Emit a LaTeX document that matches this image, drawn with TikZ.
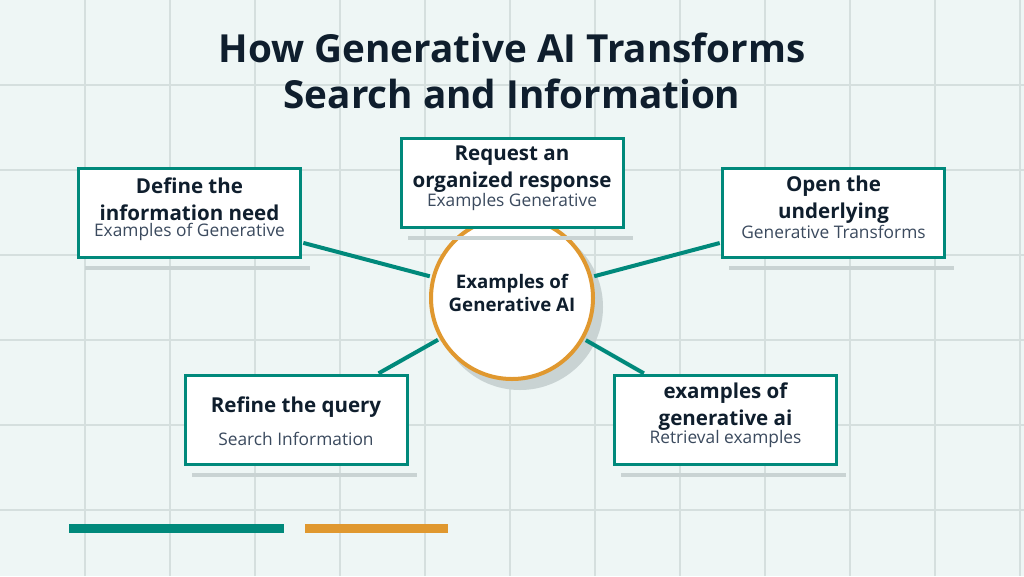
\documentclass[tikz,border=0pt]{standalone}
\usepackage{fontspec}
\setmainfont{Open Sans}
\usetikzlibrary{positioning,calc}

\definecolor{bgmint}{HTML}{EEF6F5}
\definecolor{gridgray}{HTML}{D5DFDE}
\definecolor{tealline}{HTML}{00897B}
\definecolor{ochre}{HTML}{E0982F}
\definecolor{inkdark}{HTML}{0F1E2D}
\definecolor{inksoft}{HTML}{3B4A5E}
\definecolor{shadegray}{HTML}{C9D3D3}

\begin{document}
\begin{tikzpicture}[
		x=0.75pt,y=-0.75pt,
		gridline/.style={draw=gridgray,line width=1.5pt},
		stepbox/.style={
			draw=tealline,
			line width=2.25pt,
			fill=white,
			inner sep=0pt,
			minimum width=166.5pt,
			minimum height=66.75pt
		},
		hubnode/.style={
			circle,
			draw=ochre,
			line width=3pt,
			fill=white,
			inner sep=0pt,
			minimum size=121.5pt
		},
		headtext/.style={
			align=center,
			inner sep=0pt,
			text=inkdark,
			font=\bfseries\fontsize{15.4}{20.25}\selectfont
		},
		subtext/.style={
			inner sep=0pt,
			text=inksoft,
			font=\fontsize{13}{14}\selectfont
		},
		link/.style={
			draw=tealline,
			line width=3pt,
			shorten <=1.5pt,
			shorten >=1pt
		},
		shadebar/.style={fill=shadegray}
		]
		
		%--------------------------------------------------
		% Background and grid
		%--------------------------------------------------
		
		\fill[bgmint] (0,0) rectangle (1024,576);
		\useasboundingbox (0,0) rectangle (1024,576);
		
		\foreach \gx in {85,170,...,1020}
		\draw[gridline] (\gx,0) -- (\gx,576);
		
		\foreach \gy in {85,170,...,510}
		\draw[gridline] (0,\gy) -- (1024,\gy);
		
		%--------------------------------------------------
		% Title
		%--------------------------------------------------
		
		\node[align=center,inner sep=0pt,text=inkdark,
		font=\bfseries\fontsize{29}{34.5}\selectfont] (title) at (512,71)
		{How Generative AI Transforms\\Search and Information};
		
		%--------------------------------------------------
		% Hub
		%--------------------------------------------------
		
		\fill[shadegray] (520,307) circle (83);
		
		\node[hubnode] (hub) at (512,298) {};
		
		\node[headtext,font=\bfseries\fontsize{14}{17.25}\selectfont]
		(hub-t) at (512,292.5) {Examples of\\Generative AI};
		
		%--------------------------------------------------
		% Boxes
		%--------------------------------------------------
		
		\node[stepbox] (define) at (189.5,213) {};
		\node[stepbox] (request) at (512,183) {};
		\node[stepbox] (openup) at (833.5,213) {};
		\node[stepbox] (refine) at (296,420) {};
		\node[stepbox] (retrieve) at (725.5,420) {};
		
		\foreach \b in {define,request,openup,refine,retrieve}
		\fill[shadebar] ($(\b.south west)+(8,7)$) rectangle ($(\b.south east)+(8,11)$);
		
		%--------------------------------------------------
		% Links
		%--------------------------------------------------
		
		\draw[link] (hub) -- (define);
		\draw[link] (hub) -- (openup);
		\draw[link] (hub) -- (refine);
		\draw[link] (hub) -- (retrieve);
		
		%--------------------------------------------------
		% Box texts
		%--------------------------------------------------
		
		\node[headtext] (define-h) at ($(define.north)+(0,32.5)$)
		{Define the\\information need};
		\node[subtext] (define-s) at ($(define.north)+(0,65)$)
		{Examples of Generative};
		
		\node[headtext] (request-h) at ($(request.north)+(0,32.5)$)
		{Request an\\organized response};
		\node[subtext] (request-s) at ($(request.north)+(0,65)$)
		{Examples Generative};
		
		\node[headtext] (openup-h) at ($(openup.north)+(0,32.5)$)
		{Open the\\underlying};
		\node[subtext] (openup-s) at ($(openup.north)+(0,65)$)
		{Generative Transforms};
		
		\node[headtext] (refine-h) at ($(refine.north)+(0,33)$)
		{Refine the query};
		\node[subtext] (refine-s) at ($(refine.north)+(0,64.5)$)
		{Search Information};
		
		\node[headtext] (retrieve-h) at ($(retrieve.north)+(0,32.5)$)
		{examples of\\generative ai};
		\node[subtext] (retrieve-s) at ($(retrieve.north)+(0,65)$)
		{Retrieval examples};
		
		%--------------------------------------------------
		% Accent bars
		%--------------------------------------------------
		
		\fill[tealline] (69,524) rectangle (284,533);
		\fill[ochre] (305,524) rectangle (448,533);
		
	\end{tikzpicture}
\end{document}
